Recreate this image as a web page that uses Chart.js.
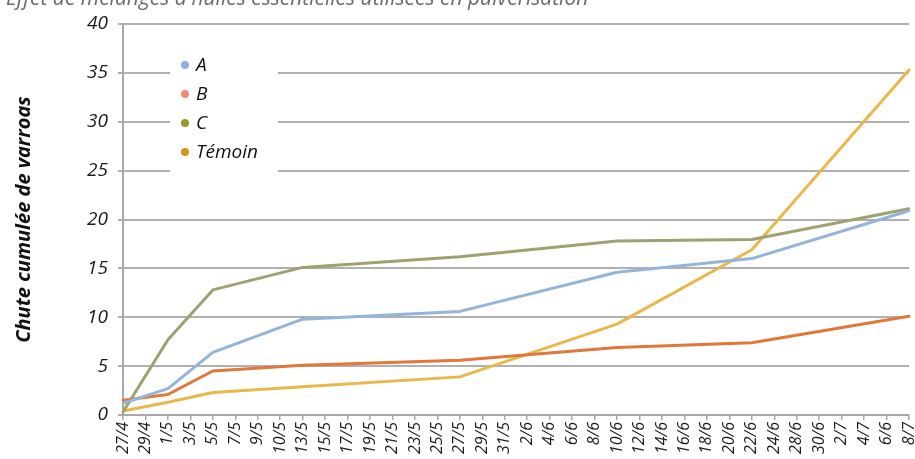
<!DOCTYPE html>
<html>
<head>
<meta charset="utf-8">
<script src="https://cdn.jsdelivr.net/npm/chart.js@4.4.1/dist/chart.umd.min.js"></script>
<style>
  html, body { margin: 0; padding: 0; background: #fff; overflow: hidden; }
  #wrap { position: relative; width: 915px; height: 459px; }
</style>
</head>
<body>
<div id="wrap"><canvas id="chart"></canvas></div>
<script>
// dates de comptage (étiquettes telles qu'affichées)
const dates = ['27/4', '29/4', '1/5', '3/5', '5/5', '7/5', '9/5', '10/5', '13/5', '15/5', '17/5', '19/5',
  '21/5', '23/5', '25/5', '27/5', '29/5', '31/5', '2/6', '4/6', '6/6', '8/6', '10/6', '12/6',
  '14/6', '16/6', '18/6', '20/6', '22/6', '24/6', '28/6', '30/6', '2/7', '4/7', '6/6', '8/7'];

// chute cumulée, null = pas de relevé ce jour-là
const serieA = [1.2, null, 2.7, null, 6.4, null, null, null, 9.8, null, null, null, null, null, null, 10.6,
  null, null, null, null, null, null, 14.6, null, null, null, null, null, 16.0, null, null, null, null, null, null, 20.9];
const serieB = [1.5, null, 2.1, null, 4.5, null, null, null, 5.1, null, null, null, null, null, null, 5.6,
  null, null, null, null, null, null, 6.9, null, null, null, null, null, 7.4, null, null, null, null, null, null, 10.1];
const serieC = [0.3, null, 7.7, null, 12.8, null, null, null, 15.1, null, null, null, null, null, null, 16.2,
  null, null, null, null, null, null, 17.8, null, null, null, null, null, 17.95, null, null, null, null, null, null, 21.1];
const serieTemoin = [0.4, null, 1.3, null, 2.3, null, null, null, 2.9, null, null, null, null, null, null, 3.9,
  null, null, null, null, null, null, 9.3, null, null, null, null, null, 16.9, null, null, null, null, null, null, 35.3];

const yTicks = [0, 5, 10, 15, 20, 25, 30, 35, 40];

const FONT = "'Open Sans', 'Noto Sans', sans-serif";
Chart.defaults.font.family = FONT;
Chart.defaults.color = '#1a1a1a';

// légende dans un cadre blanc par-dessus la grille
const legendBox = {
  id: 'legendBox',
  beforeDatasetsDraw(chart) {
    const { ctx } = chart;
    ctx.save();
    ctx.fillStyle = '#fff';
    ctx.fillRect(170, 46, 108, 152);
    ctx.font = `italic 19px ${FONT}`;
    ctx.textBaseline = 'middle';
    chart.data.datasets.forEach((ds, i) => {
      const y = 65 + i * 29;
      ctx.fillStyle = ds.pointBackgroundColor;
      ctx.beginPath();
      ctx.arc(185, y, 4, 0, Math.PI * 2);
      ctx.fill();
      ctx.fillStyle = '#111';
      ctx.fillText(ds.label, 196, y + 1);
    });
    ctx.restore();
  },
};

// titre de page coupé en haut
const pageTitle = {
  id: 'pageTitle',
  afterDraw(chart) {
    const { ctx } = chart;
    ctx.save();
    ctx.font = `italic 21px ${FONT}`;
    ctx.fillStyle = '#6b6b6b';
    ctx.textBaseline = 'alphabetic';
    ctx.fillText("Effet de mélanges d'huiles essentielles utilisées en pulvérisation", 6, 5);
    ctx.restore();
  },
};

const line = (label, data, color, dot) => ({
  label, data,
  borderColor: color,
  pointBackgroundColor: dot,
  borderWidth: 3,
  pointRadius: 0,
  pointHoverRadius: 0,
  tension: 0,
  spanGaps: true,
  borderJoinStyle: 'round',
  borderCapStyle: 'round',
});

new Chart(document.getElementById('chart'), {
  type: 'line',
  data: {
    labels: dates,
    datasets: [
      line('A', serieA, '#93b5da', '#8cafe0'),
      line('B', serieB, '#e1783a', '#f2887a'),
      line('C', serieC, '#9fa270', '#969a2c'),
      line('Témoin', serieTemoin, '#e8b94a', '#d5951f'),
    ],
  },
  options: {
    responsive: true,
    maintainAspectRatio: false,
    animation: false,
    layout: { padding: { top: 24, right: 6, left: 0, bottom: 0 } },
    plugins: { legend: { display: false }, tooltip: { enabled: false } },
    scales: {
      x: {
        offset: false,
        afterFit: s => { s.height = 44; s.paddingLeft = 0; s.paddingRight = 0; },
        border: { color: '#a8a8a8', width: 2 },
        grid: { drawOnChartArea: false, drawTicks: true, tickLength: 5, color: '#a8a8a8', lineWidth: 1.5 },
        ticks: {
          autoSkip: false, minRotation: 90, maxRotation: 90, padding: 2,
          font: { size: 16, style: 'italic' }, color: '#1a1a1a',
        },
      },
      y: {
        min: 0, max: 40,
        afterFit: s => { s.width = 123; },
        afterBuildTicks: s => { s.ticks = yTicks.map(v => ({ value: v })); },
        border: { color: '#a8a8a8', width: 2 },
        grid: { color: '#b0b0b0', lineWidth: 2, tickLength: 5 },
        ticks: { padding: 10, font: { size: 19, style: 'italic' }, color: '#1a1a1a' },
        title: {
          display: true, text: 'Chute cumulée de varroas',
          font: { size: 20, style: 'italic', weight: 'bold' }, color: '#111',
          padding: { top: 12, bottom: 0 },
        },
      },
    },
  },
  plugins: [legendBox, pageTitle],
});
</script>
</body>
</html>
